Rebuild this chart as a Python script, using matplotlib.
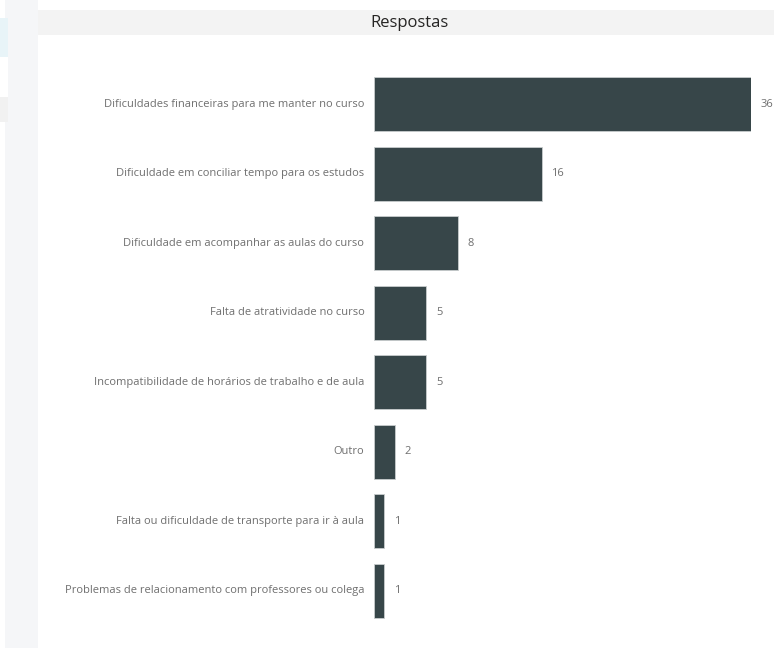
import matplotlib.pyplot as plt
from matplotlib.patches import Rectangle

# === Data ===
categories = [
    "Dificuldades financeiras para me manter no curso",
    "Dificuldade em conciliar tempo para os estudos",
    "Dificuldade em acompanhar as aulas do curso",
    "Falta de atratividade no curso",
    "Incompatibilidade de horários de trabalho e de aula",
    "Outro",
    "Falta ou dificuldade de transporte para ir à aula",
    "Problemas de relacionamento com professores ou colega",
]
values = [36, 16, 8, 5, 5, 2, 1, 1]
title = "Respostas"

# === Figure ===
W, H = 774, 648
fig = plt.figure(figsize=(W / 100, H / 100), dpi=100)
fig.patch.set_facecolor("white")


def page_rect(x, y, w, h, color):
    # rectangle in pixel coords measured from the top-left corner
    fig.add_artist(Rectangle((x / W, 1 - (y + h) / H), w / W, h / H,
                             transform=fig.transFigure, facecolor=color,
                             edgecolor="none", zorder=0))


# page background bits (left strip + panel header)
page_rect(5, 0, 33, H, "#f5f6f8")
page_rect(0, 18, 8, 39, "#e8f4f8")
page_rect(0, 57, 8, 40, "white")
page_rect(0, 97, 8, 25, "#f1f1f1")
page_rect(38, 10, W - 38, 25, "#f3f3f3")
fig.text(410 / W, 1 - 23 / H, title, ha="center", va="center",
         fontsize=12, color="#252423", family="Open Sans")

# === Axes ===
top, bottom = 69.3, 625.7
ax = fig.add_axes([374 / W, 1 - bottom / H, (751 - 374) / W, (bottom - top) / H])
ax.set_facecolor("none")
n = len(categories)
ypos = list(range(n))
ax.barh(ypos, values, height=0.78, color="#374649", edgecolor="#c8cccd", linewidth=0.6)
ax.set_xlim(0, max(values))
ax.set_ylim(n - 0.5, -0.5)
ax.axis("off")

for y, cat, v in zip(ypos, categories, values):
    ax.annotate(cat, xy=(0, y), xytext=(-7, 0), textcoords="offset points",
                ha="right", va="center", fontsize=8, color="#6f6f6f",
                family="Open Sans", annotation_clip=False)
    ax.annotate(str(v), xy=(v, y), xytext=(7, 0), textcoords="offset points",
                ha="left", va="center", fontsize=8, color="#6f6f6f",
                family="Open Sans", annotation_clip=False)

fig.savefig("out.png", dpi=100)
